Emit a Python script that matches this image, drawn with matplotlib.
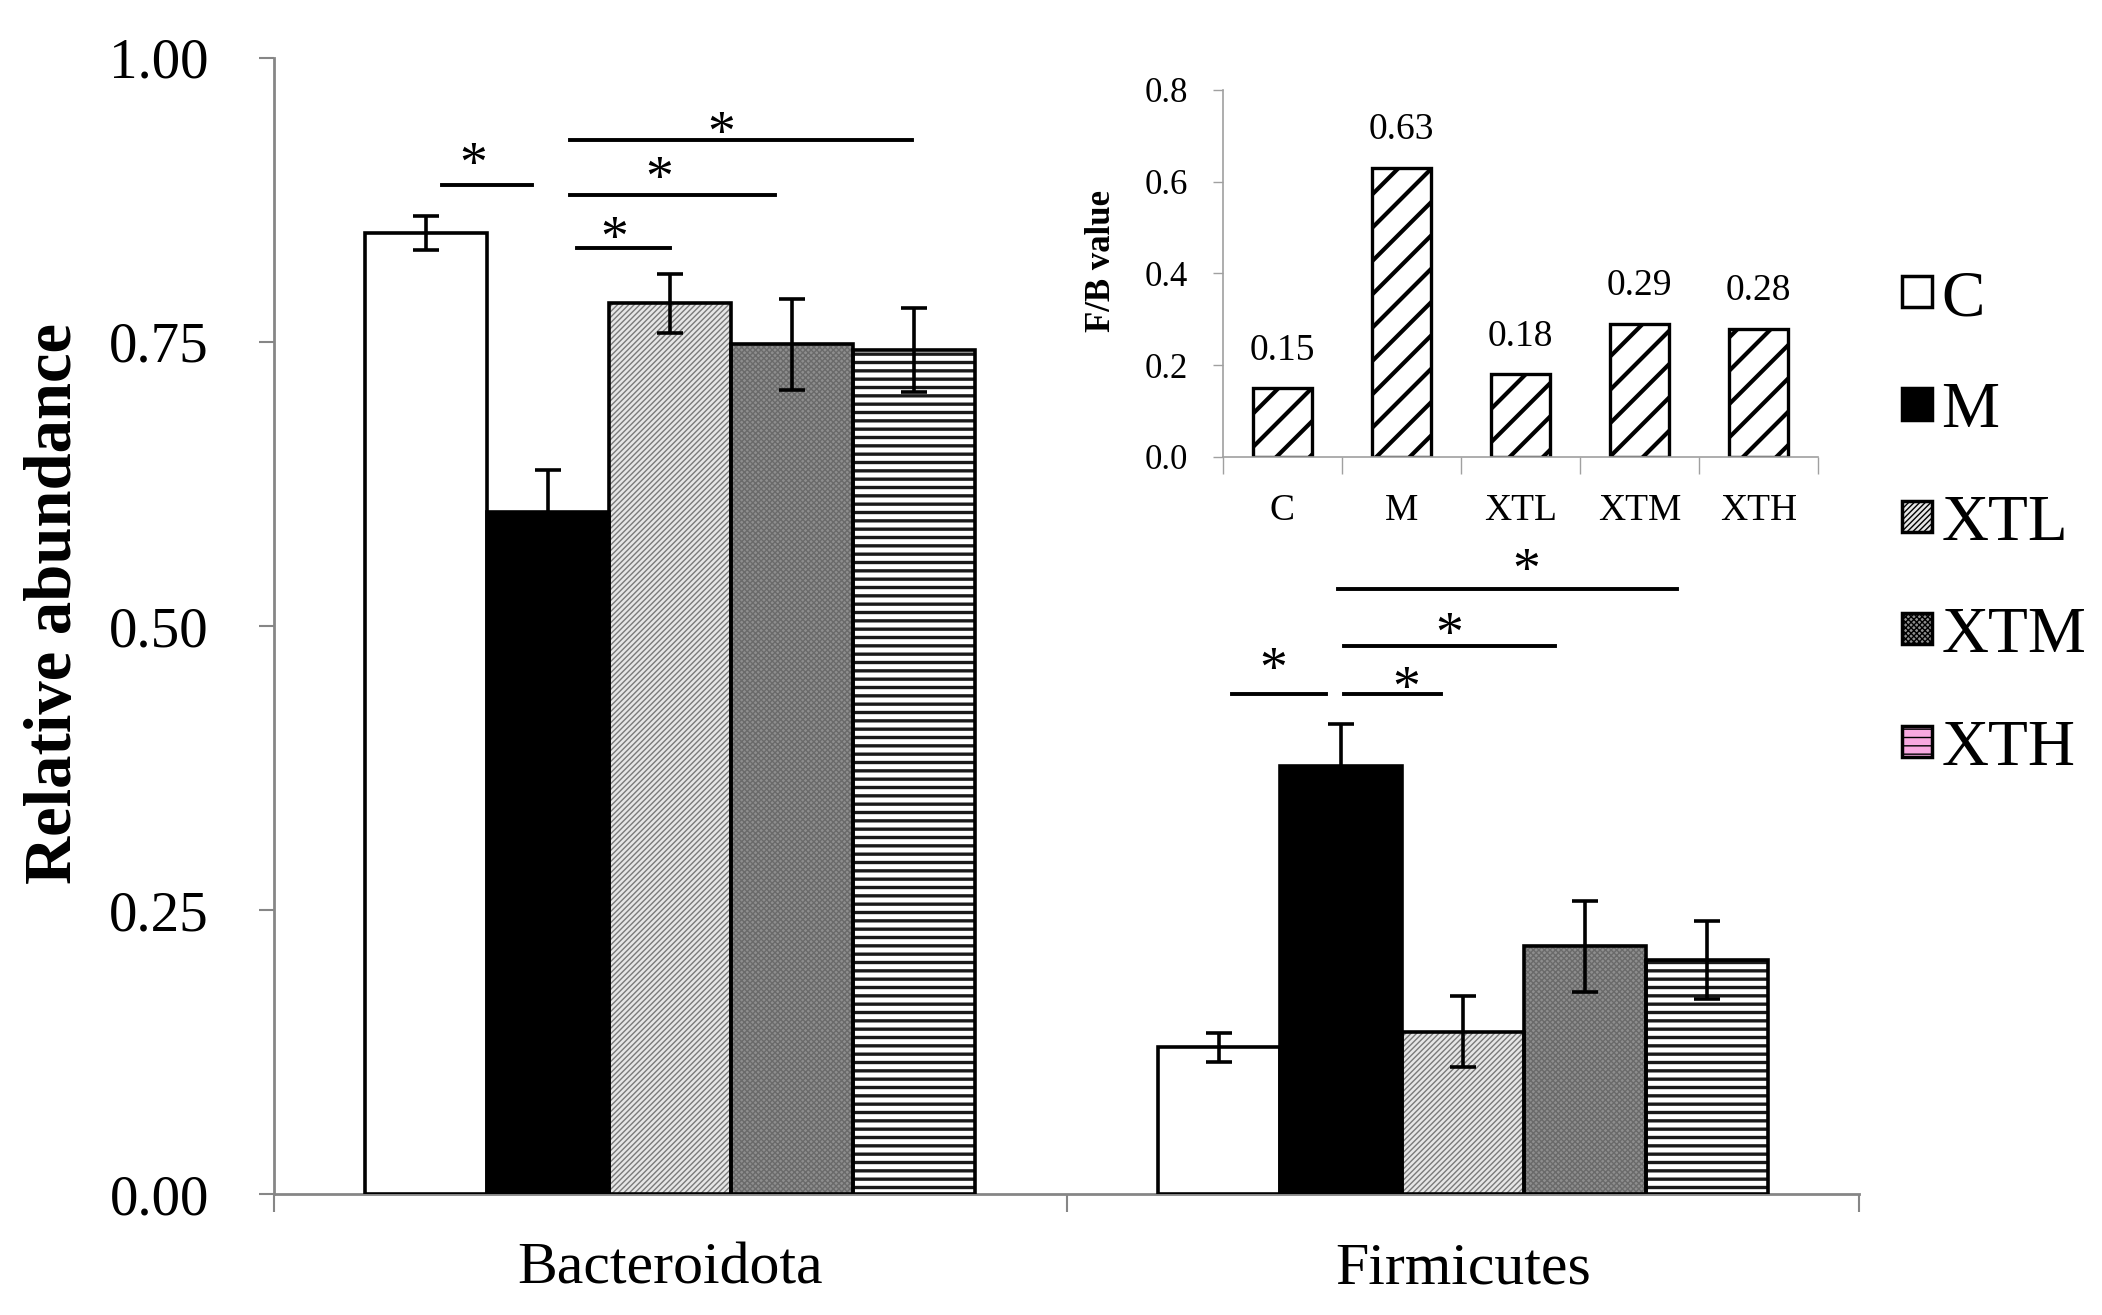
import numpy as np
import matplotlib.pyplot as plt
from matplotlib.patches import Patch

plt.rcParams['font.family'] = ['Liberation Serif', 'DejaVu Serif']

phyla = ['Bacteroidota', 'Firmicutes']
groups = ['C', 'M', 'XTL', 'XTM', 'XTH']

# relative abundance (mean, error) per group, order: Bacteroidota, Firmicutes
abund = {
    'C':   [0.846, 0.129],
    'M':   [0.600, 0.377],
    'XTL': [0.784, 0.143],
    'XTM': [0.748, 0.218],
    'XTH': [0.743, 0.206],
}
abund_err = {
    'C':   [0.015, 0.013],
    'M':   [0.037, 0.037],
    'XTL': [0.026, 0.031],
    'XTM': [0.040, 0.040],
    'XTH': [0.037, 0.034],
}

# F/B ratio for inset
fb_values = [0.15, 0.63, 0.18, 0.29, 0.28]

# significance brackets:
# (phylum, group a, group b, start shift, end shift, line height, star height, star shift)
sig = [
    (0, 0, 1, 0.020, -0.020, 0.888, 0.915, -0.018),
    (0, 1, 4, 0.028, -0.003, 0.928, 0.942, -0.025),
    (0, 1, 3, 0.028, -0.022, 0.879, 0.903, -0.017),
    (0, 1, 2, 0.036, 0.000, 0.833, 0.850, -0.012),
    (1, 0, 1, 0.017, -0.018, 0.440, 0.470, -0.008),
    (1, 1, 2, 0.004, -0.028, 0.440, 0.454, 0.018),
    (1, 1, 3, 0.004, -0.038, 0.482, 0.501, 0.000),
    (1, 1, 4, -0.004, -0.038, 0.533, 0.558, 0.024),
]

styles = {
    'C':   dict(fc='white', hatch=None, hc='black', hlw=1.0),
    'M':   dict(fc='black', hatch=None, hc='black', hlw=1.0),
    'XTL': dict(fc='#e6e6e6', hatch='//////', hc='#7a7a7a', hlw=1.0),
    'XTM': dict(fc='#8e8e8e', hatch='xxxxxx', hc='#6a6a6a', hlw=1.0),
    'XTH': dict(fc='white', hatch='--', hc='#1a1a1a', hlw=2.4),
}
legend_fc = {'C': 'white', 'M': 'black', 'XTL': '#e6e6e6', 'XTM': '#8e8e8e', 'XTH': '#f7a8e0'}

fig = plt.figure(figsize=(21.02, 13.15), dpi=100)
ax = fig.add_axes([0.1304, 0.0920, 0.7540, 0.8639])

width = 0.154
x = np.arange(len(phyla))
spine_gray = '#868686'

for i, g in enumerate(groups):
    pos = x + (i - 2) * width
    st = styles[g]
    with plt.rc_context({'hatch.linewidth': st['hlw']}):
        ax.bar(pos, abund[g], width, color=st['fc'], edgecolor=st['hc'],
               hatch=st['hatch'], linewidth=0, zorder=2)
    ax.bar(pos, abund[g], width, fill=False, edgecolor='black',
           linewidth=2.6, zorder=3)
    ax.errorbar(pos, abund[g], yerr=abund_err[g], fmt='none', ecolor='black',
                elinewidth=2.6, capsize=9.5, capthick=2.6, zorder=4)

for p, a, b, da, db, yl, ys, dx in sig:
    xa = x[p] + (a - 2) * width + da
    xb = x[p] + (b - 2) * width + db
    ax.plot([xa, xb], [yl, yl], color='black', lw=2.8, zorder=5)
    ax.annotate('*', ((xa + xb) / 2 + dx, ys), xytext=(0, -19), textcoords='offset points',
                ha='center', va='baseline', fontsize=40)

ax.set_xlim(-0.5, 1.5)
ax.set_ylim(0, 1.0)
ax.set_yticks([0, 0.25, 0.5, 0.75, 1.0])
ax.set_yticklabels(['0.00', '0.25', '0.50', '0.75', '1.00'])
ax.set_xticks([-0.5, 0.5, 1.5])
ax.set_xticklabels([])
ax.set_xticks(x, minor=True)
ax.set_xticklabels(phyla, minor=True)
ax.tick_params(axis='y', direction='out', length=11, width=1.5, color=spine_gray,
               labelsize=41, pad=36)
ax.tick_params(axis='x', which='major', direction='out', length=13, width=1.5,
               color=spine_gray)
ax.tick_params(axis='x', which='minor', length=0, labelsize=43, pad=35)
for s in ['top', 'right']:
    ax.spines[s].set_visible(False)
for s in ['left', 'bottom']:
    ax.spines[s].set_color(spine_gray)
    ax.spines[s].set_linewidth(2)
ax.set_ylabel('Relative abundance', fontsize=48, fontweight='bold')
ax.yaxis.set_label_coords(-0.119, 0.52)

# legend
handles = []
for g in groups:
    with plt.rc_context({'hatch.linewidth': styles[g]['hlw']}):
        handles.append(Patch(facecolor=legend_fc[g], edgecolor='black',
                             hatch=styles[g]['hatch'], linewidth=2.5))
fig.legend(handles, groups, loc='upper left', bbox_to_anchor=(0.905, 0.795),
           frameon=False, fontsize=47, handlelength=0.46, handleheight=0.36,
           handletextpad=0.14, labelspacing=0.81, borderaxespad=0, borderpad=0)

# inset F/B
ins = fig.add_axes([0.5818, 0.6525, 0.2831, 0.2791])
xi = np.arange(len(groups))
with plt.rc_context({'hatch.linewidth': 3.0}):
    ins.bar(xi, fb_values, 0.5, color='white', edgecolor='black', hatch='/',
            linewidth=2.4, zorder=2)
for xx, v in zip(xi, fb_values):
    ins.text(xx, v + 0.045, f'{v:.2f}', ha='center', va='bottom', fontsize=27)
ins.set_xlim(-0.5, 4.5)
ins.set_ylim(0, 0.8)
ins.set_yticks([0, 0.2, 0.4, 0.6, 0.8])
ins.set_yticklabels(['0.0', '0.2', '0.4', '0.6', '0.8'])
ins.set_xticks(np.arange(-0.5, 5, 1))
ins.set_xticklabels([])
ins.set_xticks(xi, minor=True)
ins.set_xticklabels(groups, minor=True)
ins.tick_params(axis='y', direction='out', length=7, width=1, color='#a0a0a0',
                labelsize=25, pad=18)
ins.tick_params(axis='x', which='major', direction='out', length=12, width=1,
                color='#a0a0a0')
ins.tick_params(axis='x', which='minor', length=0, labelsize=27, pad=26)
for s in ['top', 'right']:
    ins.spines[s].set_visible(False)
for s in ['left', 'bottom']:
    ins.spines[s].set_color('#a0a0a0')
    ins.spines[s].set_linewidth(1.2)
ins.set_ylabel('F/B value', fontsize=25, fontweight='bold')
ins.yaxis.set_label_coords(-0.176, 0.533)

fig.savefig('out.png', dpi=100)
